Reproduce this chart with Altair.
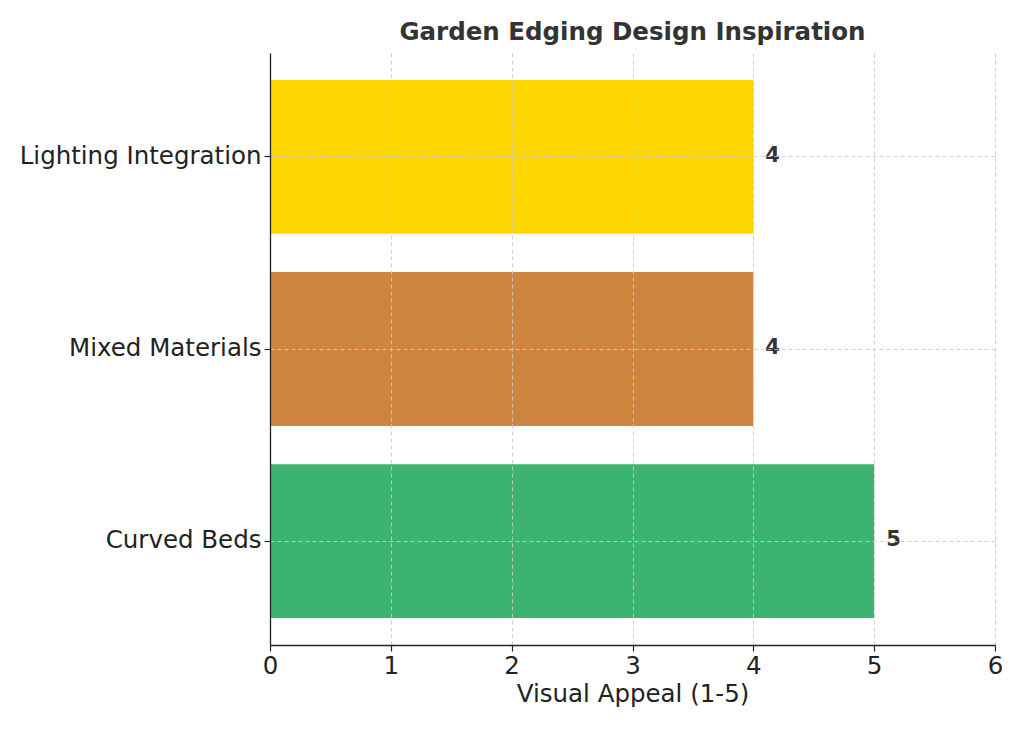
import altair as alt
import pandas as pd

categories = ["Lighting Integration", "Mixed Materials", "Curved Beds"]
values = [4, 4, 5]
colors = ["#FFD700", "#CD853F", "#3CB371"]

df = pd.DataFrame({"cat": categories, "val": values, "color": colors})

FS = 24.5

y_enc = alt.Y("cat:N", sort=categories, title=None,
              scale=alt.Scale(paddingInner=0.2, paddingOuter=0.14),
              axis=alt.Axis(bandPosition=0.5, labelFontSize=FS, labelColor="#222",
                            labelFont="DejaVu Sans", labelPadding=3, labelLimit=1000,
                            tickColor="#222", tickSize=6, tickWidth=1.2,
                            domainColor="#222", domainWidth=1.3,
                            grid=True, gridColor="#cccccc", gridDash=[4, 3], gridWidth=0.9,
                            zindex=1))
x_enc = alt.X("val:Q", title="Visual Appeal (1-5)",
              scale=alt.Scale(domain=[0, 6], nice=False, zero=True),
              axis=alt.Axis(values=[0, 1, 2, 3, 4, 5, 6], format="d",
                            labelFontSize=FS, labelColor="#222", labelFont="DejaVu Sans",
                            labelPadding=3, labelFlush=False,
                            titleFontSize=FS, titleColor="#222", titleFont="DejaVu Sans",
                            titleFontWeight="normal", titlePadding=5,
                            tickColor="#222", tickSize=6, tickWidth=1.2,
                            domainColor="#222", domainWidth=1.3,
                            grid=True, gridColor="#cccccc", gridDash=[4, 3], gridWidth=0.9,
                            zindex=1))

bars = alt.Chart(df).mark_bar().encode(
    y=y_enc, x=x_enc,
    color=alt.Color("color:N", scale=None),
)

labels = alt.Chart(df).mark_text(align="left", baseline="middle", dx=12, dy=-1,
                                 fontSize=21, fontWeight="bold", color="#333333",
                                 font="DejaVu Sans").encode(
    y=alt.Y("cat:N", sort=categories),
    x=alt.X("val:Q"),
    text=alt.Text("val:Q", format="d"),
)

chart = (bars + labels).properties(
    width=725, height=592,
    padding={"left": 262, "top": 45, "right": 21, "bottom": 70},
    autosize=alt.AutoSizeParams(type="none"),
    title=alt.TitleParams("Garden Edging Design Inspiration", fontSize=FS,
                          fontWeight="bold", color="#333333", font="DejaVu Sans",
                          anchor="middle", offset=8),
).configure_view(stroke=None)

chart.save("out.html", embed_options={"renderer": "svg", "actions": False})
